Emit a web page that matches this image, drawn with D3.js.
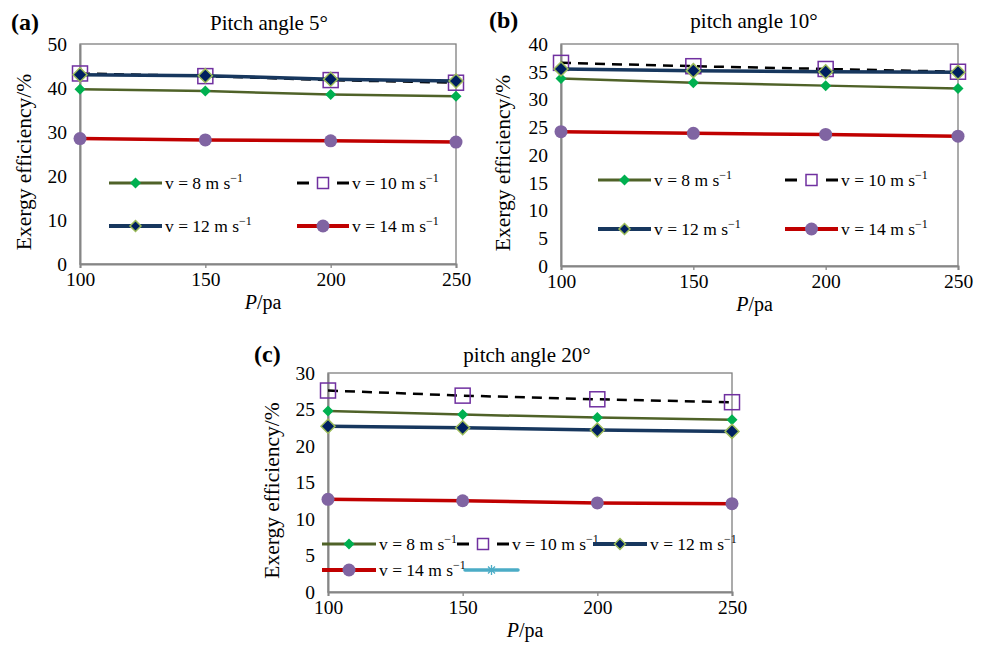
<!DOCTYPE html>
<html>
<head>
<meta charset="utf-8">
<script src="https://cdn.jsdelivr.net/npm/d3@7/dist/d3.min.js"></script>
<style>
  html, body { margin: 0; padding: 0; background: #fff; }
  svg { display: block; }
  svg text { font-family: "Liberation Serif", serif; }
</style>
</head>
<body>
<svg id="chart" width="984" height="648"></svg>
<script>
// ---------- DATA ----------
const pressures = [100, 150, 200, 250];
const seriesNames = ["v = 8 m s", "v = 10 m s", "v = 12 m s", "v = 14 m s"];

// Panel (a) pitch angle 5°
const a_v8  = [39.7, 39.3, 38.5, 38.1];
const a_v10 = [43.3, 42.7, 41.8, 41.2];
const a_v12 = [43.0, 42.8, 42.0, 41.6];
const a_v14 = [28.5, 28.2, 28.0, 27.7];

// Panel (b) pitch angle 10°
const b_v8  = [33.8, 33.0, 32.5, 32.0];
const b_v10 = [36.6, 36.0, 35.5, 35.0];
const b_v12 = [35.5, 35.2, 35.0, 34.9];
const b_v14 = [24.2, 23.9, 23.7, 23.4];

// Panel (c) pitch angle 20°
const c_v8  = [24.8, 24.3, 23.9, 23.6];
const c_v10 = [27.6, 26.9, 26.4, 26.0];
const c_v12 = [22.7, 22.5, 22.2, 22.0];
const c_v14 = [12.7, 12.5, 12.2, 12.1];

const yTicksA = [0, 10, 20, 30, 40, 50];
const yTicksB = [0, 5, 10, 15, 20, 25, 30, 35, 40];
const yTicksC = [0, 5, 10, 15, 20, 25, 30];
const xTicks = [100, 150, 200, 250];

// ---------- STYLES ----------
const FONT = "Liberation Serif";
const styles = [
  { line: "#4F6228", width: 2.5, dash: null, marker: "diamond", size: 11, fill: "#00B050", stroke: "#00B050", sw: 0, lsize: 11 },
  { line: "#000000", width: 2.5, dash: "10,7", marker: "square", size: 15, fill: "none", stroke: "#7030A0", sw: 1.5, lsize: 11 },
  { line: "#17375E", width: 3.5, dash: null, marker: "diamond", size: 14, fill: "#002060", stroke: "#9BBB59", sw: 1.5, lsize: 11 },
  { line: "#C00000", width: 3.5, dash: null, marker: "circle", size: 6.5, fill: "#8064A2", stroke: "#8064A2", sw: 0, lsize: 6.5 }
];

const svg = d3.select("#chart");

function drawMarker(g, st, x, y, legend) {
  const s = legend ? st.lsize : st.size;
  if (st.marker === "diamond") {
    const h = s / 2;
    g.append("path")
      .attr("d", `M${x},${y - h}L${x + h},${y}L${x},${y + h}L${x - h},${y}Z`)
      .attr("fill", st.fill).attr("stroke", st.stroke).attr("stroke-width", st.sw);
  } else if (st.marker === "square") {
    g.append("rect").attr("x", x - s / 2).attr("y", y - s / 2).attr("width", s).attr("height", s)
      .attr("fill", "rgba(255,255,255,0)")
      .attr("stroke", st.stroke).attr("stroke-width", st.sw);
  } else if (st.marker === "circle") {
    g.append("circle").attr("cx", x).attr("cy", y).attr("r", s)
      .attr("fill", st.fill);
  }
}

function legendText(g, x, y, label) {
  const t = g.append("text").attr("x", x).attr("y", y).attr("font-size", 17.5)
    .attr("font-family", FONT).attr("fill", "#000");
  t.append("tspan").text(label);
  t.append("tspan").attr("dy", -7).attr("font-size", 12).text("\u22121");
}

function drawPanel(cfg) {
  const g = svg.append("g");
  const x = d3.scaleLinear().domain([100, 250]).range([cfg.left, cfg.right]);
  const y = d3.scaleLinear().domain([0, cfg.ymax]).range([cfg.bottom, cfg.top]);

  // plot box
  g.append("rect").attr("x", cfg.left).attr("y", cfg.top)
    .attr("width", cfg.right - cfg.left).attr("height", cfg.bottom - cfg.top)
    .attr("fill", "none").attr("stroke", "#7f7f7f").attr("stroke-width", 1.3);

  // x axis
  const xa = g.append("g").attr("transform", `translate(0,${cfg.bottom})`)
    .call(d3.axisBottom(x).tickValues(xTicks).tickSize(4).tickPadding(4).tickFormat(d3.format("d")));
  xa.attr("font-family", FONT);
  xa.select(".domain").attr("stroke", "#868686").attr("stroke-width", 2);
  xa.selectAll(".tick line").attr("stroke", "#868686").attr("stroke-width", 1.3);
  xa.selectAll("text").attr("font-size", 19.5).attr("font-family", FONT).attr("fill", "#000");

  // y axis
  const ya = g.append("g").attr("transform", `translate(${cfg.left},0)`)
    .call(d3.axisLeft(y).tickValues(cfg.yTicks).tickSize(0).tickPadding(13).tickFormat(d3.format("d")));
  ya.attr("font-family", FONT);
  ya.select(".domain").attr("stroke", "#868686").attr("stroke-width", 2);
  ya.selectAll("text").attr("font-size", 19.5).attr("font-family", FONT).attr("fill", "#000");

  // series lines
  cfg.series.forEach((vals, i) => {
    const st = styles[i];
    const line = d3.line().x((d, j) => x(pressures[j])).y(d => y(d));
    g.append("path").datum(vals).attr("d", line)
      .attr("fill", "none").attr("stroke", st.line).attr("stroke-width", st.width)
      .attr("stroke-dasharray", st.dash);
    vals.forEach((v, j) => drawMarker(g, st, x(pressures[j]), y(v), false));
  });

  // titles
  g.append("text").attr("x", cfg.titleX).attr("y", cfg.titleY).attr("text-anchor", "middle")
    .attr("font-family", FONT).attr("font-size", 21).text(cfg.title);
  g.append("text").attr("x", cfg.tagX).attr("y", cfg.titleY).attr("font-size", 24)
    .attr("font-family", FONT).attr("font-weight", "bold").text(cfg.tag);

  // axis titles
  const xt = g.append("text").attr("x", (cfg.left + cfg.right) / 2 - 5).attr("y", cfg.bottom + 45)
    .attr("text-anchor", "middle").attr("font-family", FONT).attr("font-size", 20);
  xt.append("tspan").attr("font-style", "italic").text("P");
  xt.append("tspan").text("/pa");

  g.append("text").attr("transform", `translate(${cfg.yTitleX},${(cfg.top + cfg.bottom) / 2 + 8}) rotate(-90)`)
    .attr("text-anchor", "middle").attr("font-family", FONT).attr("font-size", 21.5).text("Exergy efficiency/%");

  // legend
  cfg.legend.forEach(item => {
    if (item.series === 4) {
      // extra cyan series (legend only)
      g.append("line").attr("x1", item.x1).attr("x2", item.x2).attr("y1", item.y).attr("y2", item.y)
        .attr("stroke", "#4BACC6").attr("stroke-width", 3.5).attr("stroke-linecap", "round");
      const cx = (item.x1 + item.x2) / 2, r = 5;
      [[0, 1], [1, 0], [0.7, 0.7], [0.7, -0.7]].forEach(([dx, dy]) => {
        g.append("line").attr("x1", cx - dx * r).attr("x2", cx + dx * r)
          .attr("y1", item.y - dy * r).attr("y2", item.y + dy * r)
          .attr("stroke", "#4BACC6").attr("stroke-width", 1.3);
      });
      return;
    }
    const st = styles[item.series];
    if (st.dash) {
      [[item.x1, item.x1 + 12], [item.x2 - 12, item.x2]].forEach(([p, q]) => {
        g.append("line").attr("x1", p).attr("x2", q).attr("y1", item.y).attr("y2", item.y)
          .attr("stroke", st.line).attr("stroke-width", st.width + 0.5);
      });
    } else {
      g.append("line").attr("x1", item.x1).attr("x2", item.x2).attr("y1", item.y).attr("y2", item.y)
        .attr("stroke", st.line).attr("stroke-width", st.width + 0.5);
    }
    drawMarker(g, st, (item.x1 + item.x2) / 2, item.y, true);
    legendText(g, item.x2 + 3, item.y + 6, seriesNames[item.series]);
  });
}

drawPanel({
  left: 80, right: 456, top: 44, bottom: 264, ymax: 50, yTicks: yTicksA,
  series: [a_v8, a_v10, a_v12, a_v14],
  title: "Pitch angle 5°", titleX: 269, titleY: 30, tag: "(a)", tagX: 11, yTitleX: 31,
  legend: [
    { series: 0, x1: 109, x2: 162, y: 183 },
    { series: 1, x1: 297, x2: 349, y: 183 },
    { series: 2, x1: 109, x2: 162, y: 226 },
    { series: 3, x1: 297, x2: 349, y: 226 }
  ]
});

drawPanel({
  left: 561, right: 958, top: 44, bottom: 266, ymax: 40, yTicks: yTicksB,
  series: [b_v8, b_v10, b_v12, b_v14],
  title: "pitch angle 10°", titleX: 754, titleY: 28, tag: "(b)", tagX: 489, yTitleX: 510,
  legend: [
    { series: 0, x1: 598, x2: 651, y: 180 },
    { series: 1, x1: 785, x2: 838, y: 180 },
    { series: 2, x1: 598, x2: 651, y: 229 },
    { series: 3, x1: 785, x2: 838, y: 229 }
  ]
});

drawPanel({
  left: 328, right: 732, top: 373, bottom: 592, ymax: 30, yTicks: yTicksC,
  series: [c_v8, c_v10, c_v12, c_v14],
  title: "pitch angle 20°", titleX: 527, titleY: 362, tag: "(c)", tagX: 254, yTitleX: 279,
  legend: [
    { series: 0, x1: 322, x2: 376, y: 544 },
    { series: 1, x1: 457, x2: 509, y: 544 },
    { series: 2, x1: 593, x2: 647, y: 544 },
    { series: 3, x1: 322, x2: 376, y: 570 },
    { series: 4, x1: 465, x2: 518, y: 570 }
  ]
});
</script>
</body>
</html>
